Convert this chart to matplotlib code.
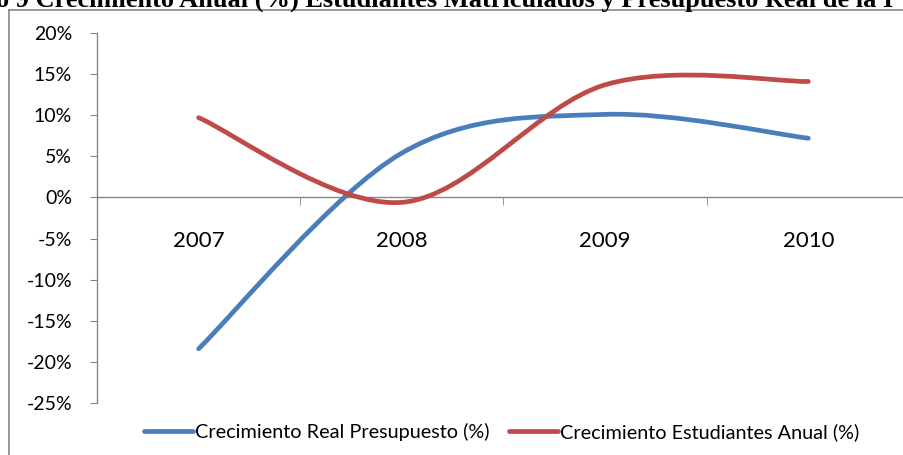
import matplotlib
matplotlib.use('Agg')
import matplotlib.pyplot as plt
from matplotlib.path import Path
from matplotlib.patches import PathPatch
from matplotlib.lines import Line2D
from matplotlib.ticker import FuncFormatter

years = ['2007', '2008', '2009', '2010']
presupuesto = [-18.4, 5.4, 10.1, 7.2]
estudiantes = [9.7, -0.6, 13.7, 14.1]
series_names = ['Crecimiento Real Presupuesto (%)', 'Crecimiento Estudiantes Anual (%)']
colors = ['#4A7EBB', '#BE4B48']
title = 'o 9 Crecimiento Anual (%) Estudiantes Matriculados y Presupuesto Real de la I'

GRAY = '#868686'
plt.rcParams['font.family'] = ['Lato', 'DejaVu Sans']


def smooth_path(xs, ys):
    # bezier curve like excel "smoothed line"
    pts = list(zip(xs, ys))
    verts = [pts[0]]
    codes = [Path.MOVETO]
    n = len(pts)
    for i in range(n - 1):
        p0 = pts[max(i - 1, 0)]
        p1 = pts[i]
        p2 = pts[i + 1]
        p3 = pts[min(i + 2, n - 1)]
        c1 = (p1[0] + (p2[0] - p0[0]) / 6, p1[1] + (p2[1] - p0[1]) / 6)
        c2 = (p2[0] - (p3[0] - p1[0]) / 6, p2[1] - (p3[1] - p1[1]) / 6)
        verts += [c1, c2, p2]
        codes += [Path.CURVE4] * 3
    return Path(verts, codes)


fig = plt.figure(figsize=(9.04, 4.55), dpi=100)
ax = fig.add_axes([0.1073, 0.1143, 0.8993, 0.8132])

x = list(range(len(years)))
handles = []
for vals, col, name in zip([presupuesto, estudiantes], colors, series_names):
    patch = PathPatch(smooth_path(x, vals), facecolor='none', edgecolor=col,
                      lw=3.4, capstyle='round', joinstyle='round', zorder=3)
    ax.add_patch(patch)
    handles.append(Line2D([], [], color=col, lw=3.4, solid_capstyle='round', label=name))

ax.set_xlim(-0.5, 3.5)
ax.set_ylim(-25, 20)
ax.set_yticks(range(-25, 21, 5))
ax.yaxis.set_major_formatter(FuncFormatter(lambda v, p: f'{v:.0f}%'))

ax.set_xticks(x)
ax.set_xticklabels(years)
ax.set_xticks([0.5, 1.5, 2.5], minor=True)

for s in ['top', 'right']:
    ax.spines[s].set_visible(False)
ax.spines['bottom'].set_position(('data', 0))
for s in ['left', 'bottom']:
    ax.spines[s].set_color(GRAY)
    ax.spines[s].set_linewidth(1.0)

ax.tick_params(axis='y', direction='out', length=5, color=GRAY, labelsize=14, pad=13)
ax.tick_params(axis='x', which='major', length=0, labelsize=16, pad=24)
ax.tick_params(axis='x', which='minor', direction='out', length=6, color=GRAY)

ax.legend(handles=handles, loc='center', bbox_to_anchor=(0.4975, -0.0793),
          ncol=2, frameon=False, fontsize=14.3, handlelength=2.5,
          handletextpad=0.1, columnspacing=0.95)

# chart border
fig.add_artist(Line2D([0.01, 0.01], [0.0, 0.978], transform=fig.transFigure, color=GRAY, lw=1.2))
fig.add_artist(Line2D([0.01, 1.0], [0.978, 0.978], transform=fig.transFigure, color=GRAY, lw=1.2))

fig.text(-0.004, 0.9857, title, ha='left', va='baseline', fontsize=19,
         fontweight='bold', family=['Liberation Serif', 'DejaVu Serif'])

fig.savefig('out.png', dpi=100)
